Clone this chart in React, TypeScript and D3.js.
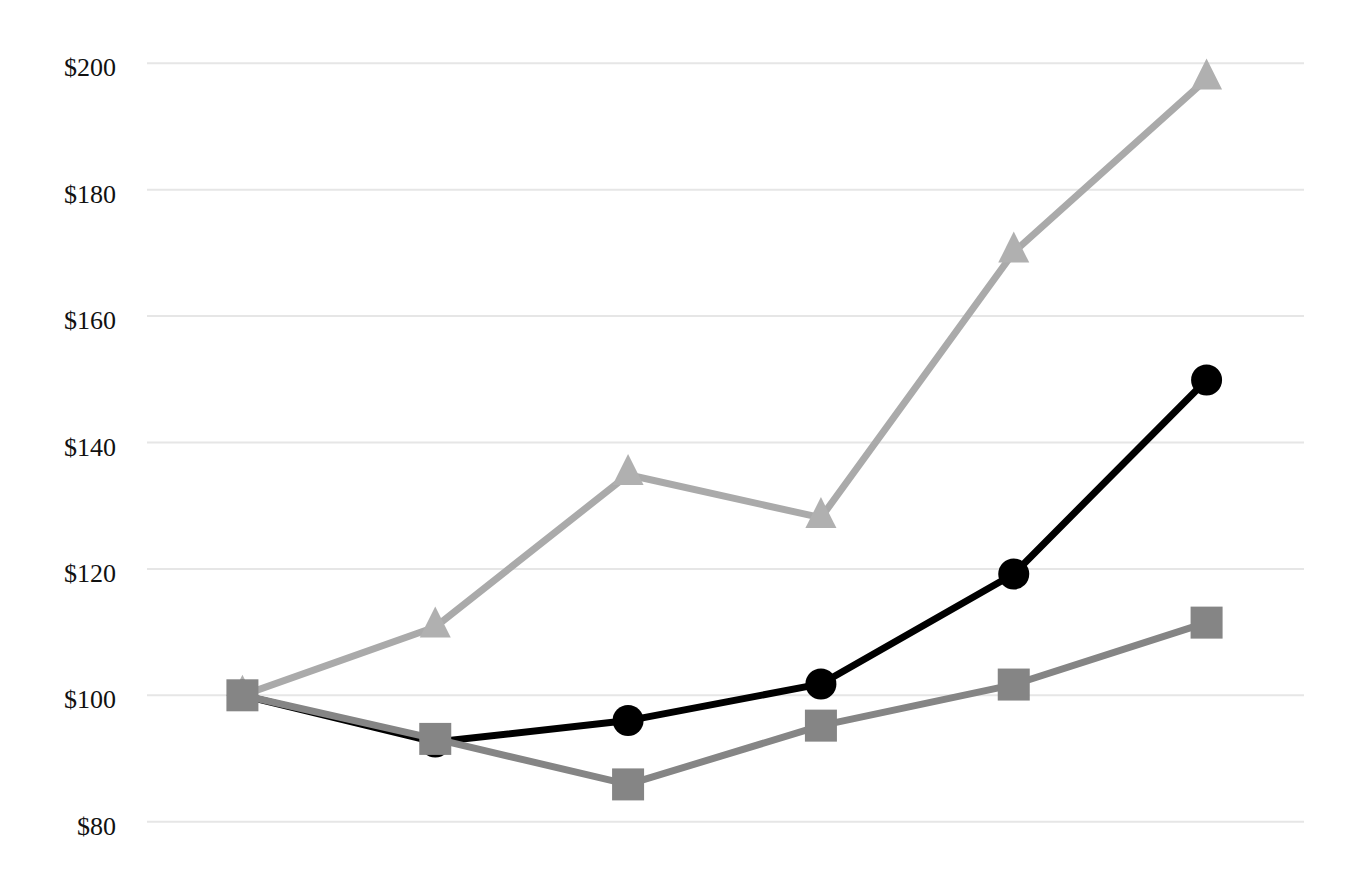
import React from "react";
import * as d3 from "d3";

const periods = ["P0", "P1", "P2", "P3", "P4", "P5"];
const seriesCircle = [100, 92.6, 96.0, 101.8, 119.2, 149.9];
const seriesSquare = [100, 93.1, 85.9, 95.2, 101.7, 111.5];
const seriesTriangle = [100, 110.8, 134.9, 128.1, 170.1, 197.5];
const yTicks = [80, 100, 120, 140, 160, 180, 200];

const W = 1368;
const H = 884;

export default function App() {
  const x = d3.scalePoint<string>().domain(periods).range([147, 1304]).padding(0.5);
  const y = d3.scaleLinear().domain([80, 200]).range([821.7, 63.3]);

  const line = d3
    .line<number>()
    .x((_, i) => (x(periods[i]) as number) - 1)
    .y((d) => y(d));

  const px = (i: number) => (x(periods[i]) as number) - 1;

  const triPath = (cx: number, cy: number) => {
    const w = 31;
    const h = 31;
    const top = cy - (2 / 3) * h;
    const bot = cy + (1 / 3) * h;
    return `M${cx},${top}L${cx + w / 2},${bot}L${cx - w / 2},${bot}Z`;
  };

  return (
    <svg
      width={W}
      height={H}
      style={{ position: "absolute", left: 0, top: 0, background: "#fff" }}
    >
      <g>
        {yTicks.map((t) => (
          <g key={t}>
            <line x1={147} x2={1304} y1={y(t)} y2={y(t)} stroke="#e6e6e6" strokeWidth={2} />
            <text
              x={116}
              y={y(t) + 13}
              textAnchor="end"
              fontFamily="'Liberation Serif', 'Times New Roman', serif"
              fontSize={26}
              fill="#111"
            >
              {"$" + t}
            </text>
          </g>
        ))}
      </g>
      <g>
        <path d={line(seriesTriangle) || ""} fill="none" stroke="#aaaaaa" strokeWidth={7} strokeLinejoin="round" />
        {seriesTriangle.map((v, i) => (
          <path key={i} d={triPath(px(i), y(v))} fill="#b0b0b0" />
        ))}
      </g>
      <g>
        <path d={line(seriesCircle) || ""} fill="none" stroke="#000" strokeWidth={7} strokeLinejoin="round" />
        {seriesCircle.map((v, i) => (
          <circle key={i} cx={px(i)} cy={y(v)} r={15.5} fill="#000" />
        ))}
      </g>
      <g>
        <path d={line(seriesSquare) || ""} fill="none" stroke="#858585" strokeWidth={7} strokeLinejoin="round" />
        {seriesSquare.map((v, i) => (
          <rect key={i} x={px(i) - 16} y={y(v) - 16} width={32} height={32} fill="#858585" />
        ))}
      </g>
    </svg>
  );
}
